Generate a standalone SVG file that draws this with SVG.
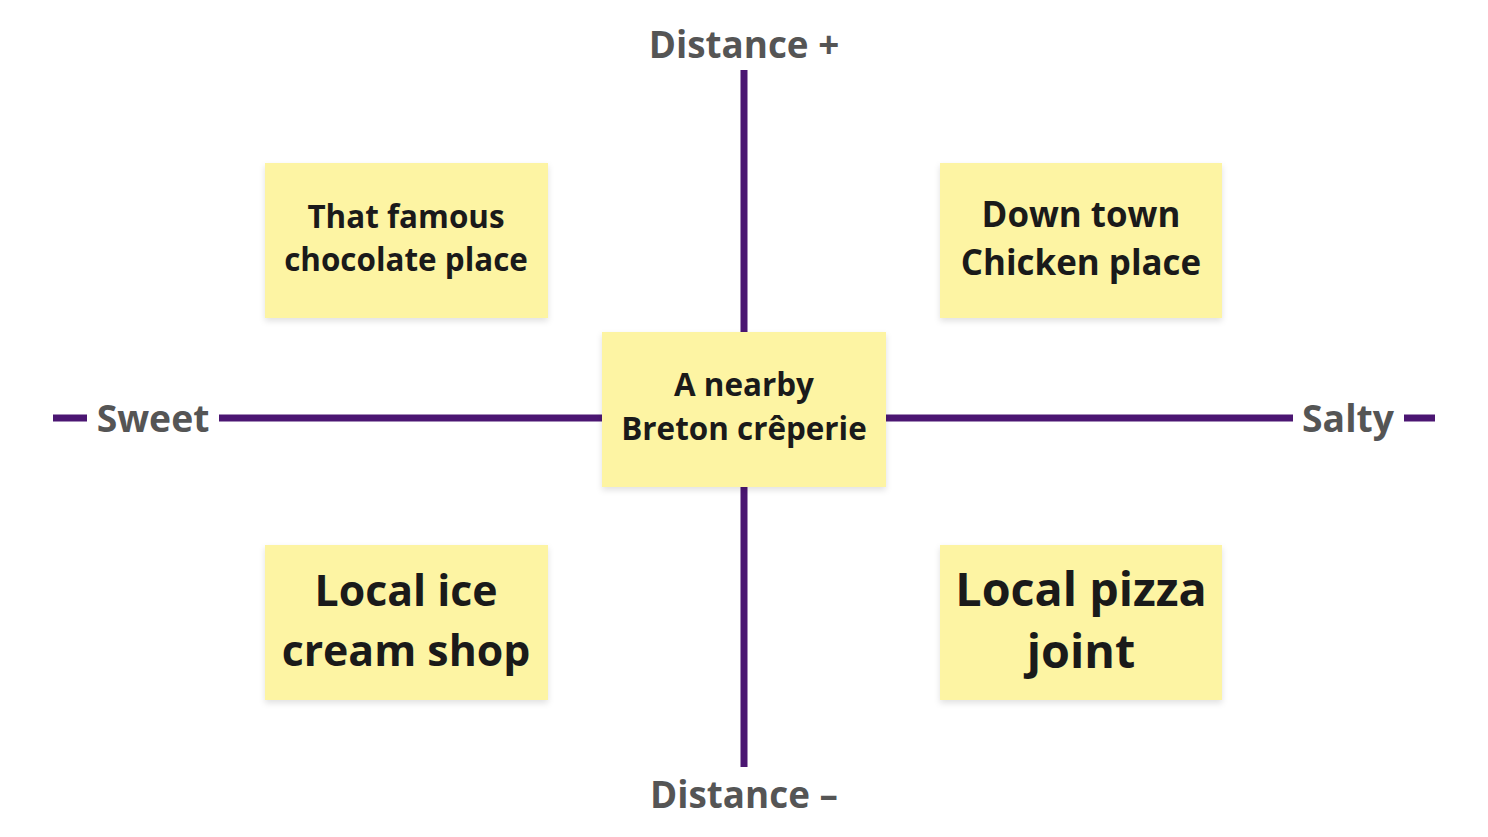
<svg xmlns="http://www.w3.org/2000/svg" width="1488" height="837" viewBox="0 0 1488 837">
<defs>
<filter id="sh" x="-10%" y="-10%" width="120%" height="130%">
<feDropShadow dx="0" dy="3" stdDeviation="3" flood-color="#000" flood-opacity="0.12"/>
</filter>
<style>
.axis{stroke:#4b1672;stroke-width:7;fill:none}
.lab{font-family:"Open Sans","Liberation Sans",sans-serif;font-weight:700;fill:#555555;text-anchor:middle}
.note{fill:#fdf4a3;filter:url(#sh)}
.nt{font-family:"Open Sans","Liberation Sans",sans-serif;font-weight:700;fill:#1a1a1a;text-anchor:middle}
</style>
</defs>
<rect width="1488" height="837" fill="#ffffff"/>
<g id="connectors">
<line class="axis" x1="744" y1="70" x2="744" y2="332"/>
<line class="axis" x1="744" y1="487" x2="744" y2="767"/>
<line class="axis" x1="53" y1="418" x2="87" y2="418"/>
<line class="axis" x1="219" y1="418" x2="602" y2="418"/>
<line class="axis" x1="886" y1="418" x2="1293" y2="418"/>
<line class="axis" x1="1404" y1="418" x2="1435" y2="418"/>
</g>
<g id="labels">
<text class="lab" x="744" y="58" font-size="36.8">Distance +</text>
<text class="lab" x="744" y="808" font-size="36.8">Distance –</text>
<text class="lab" x="153" y="432" font-size="37.3">Sweet</text>
<text class="lab" x="1348" y="432" font-size="37.3">Salty</text>
</g>
<g id="note-chocolate">
<rect class="note" x="265" y="163" width="283" height="155"/>
<text class="nt" x="406" y="228" font-size="31.4">That famous</text>
<text class="nt" x="406" y="271" font-size="31.4">chocolate place</text>
</g>
<g id="note-chicken">
<rect class="note" x="940" y="163" width="282" height="155"/>
<text class="nt" x="1081" y="227" font-size="34.9">Down town</text>
<text class="nt" x="1081" y="275" font-size="34.9">Chicken place</text>
</g>
<g id="note-creperie">
<rect class="note" x="602" y="332" width="284" height="155"/>
<text class="nt" x="744" y="396" font-size="31.4">A nearby</text>
<text class="nt" x="744" y="440" font-size="31.4">Breton crêperie</text>
</g>
<g id="note-icecream">
<rect class="note" x="265" y="545" width="283" height="155"/>
<text class="nt" x="406" y="606" font-size="42.8">Local ice</text>
<text class="nt" x="406" y="666" font-size="42.8">cream shop</text>
</g>
<g id="note-pizza">
<rect class="note" x="940" y="545" width="282" height="155"/>
<text class="nt" x="1081" y="606" font-size="46.7">Local pizza</text>
<text class="nt" x="1081" y="668" font-size="46.7">joint</text>
</g>
</svg>
